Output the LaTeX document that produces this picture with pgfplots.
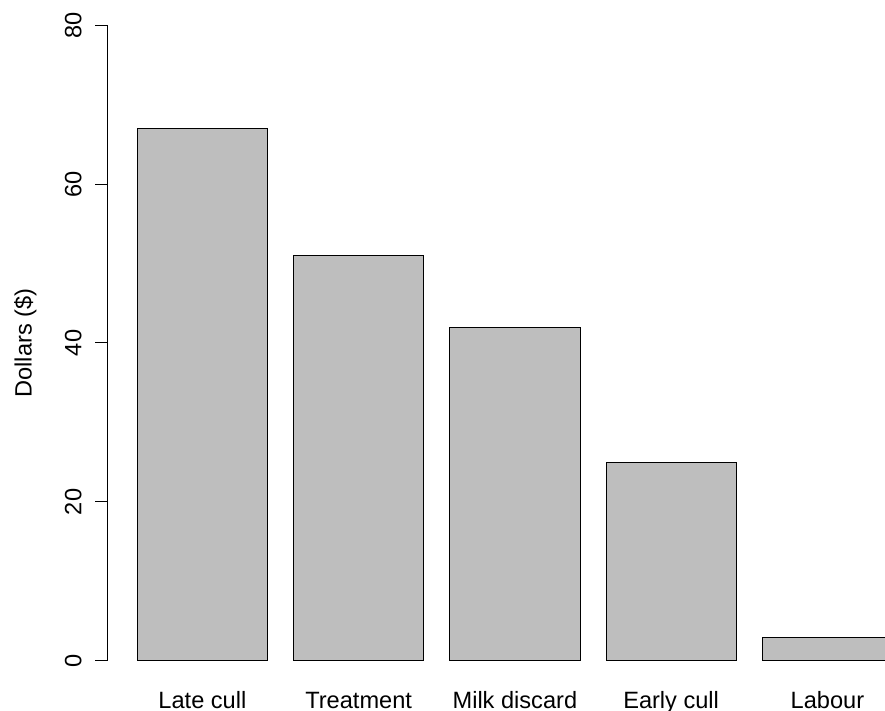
\documentclass[border=0pt]{standalone}
\usepackage{fontspec}
\setmainfont{Liberation Sans}
\usepackage{pgfplots}
\pgfplotsset{compat=1.18}
\begin{document}
\fontsize{11.8}{14}\selectfont
\begin{tikzpicture}
\path[use as bounding box, clip] (0,0) rectangle (442.5pt,355.5pt);
\begin{axis}[
  at={(53.55pt,12.3pt)}, anchor=south west,
  scale only axis, width=407.8pt, height=343.4pt,
  xmin=-0.032, xmax=6.232, ymin=-3.2, ymax=83.2,
  axis line style={draw=none},
  clip=false,
  /pgf/number format/assume math mode=true,
  ytick={0,20,40,60,80},
  tick align=outside, major tick length=6pt,
  tick style={black, line width=0.5pt},
  ytick pos=left,
  yticklabel style={rotate=90, anchor=south, inner sep=0pt},
  yticklabel shift=6.5pt,
  xtick={0.7,1.9,3.1,4.3,5.5},
  xticklabels={Late cull,Treatment,Milk discard,Early cull,Labour},
  xtick style={draw=none},
  xtick pos=bottom,
  xticklabel style={anchor=base, inner sep=0pt},
  xticklabel shift=4.85pt,
  ylabel={Dollars (\$)},
  ylabel style={at={(axis description cs:0,0.5)}, anchor=center, yshift=40.85pt},
]
\draw[black, line width=0.5pt] (axis cs:-0.032,0) -- (axis cs:-0.032,80);
\addplot[ybar, bar width=1, bar shift=0, fill={rgb,255:red,190;green,190;blue,190}, draw=black, line width=0.5pt]
  coordinates {(0.7,67) (1.9,51) (3.1,42) (4.3,25) (5.5,3)};
\end{axis}
\end{tikzpicture}
\end{document}
